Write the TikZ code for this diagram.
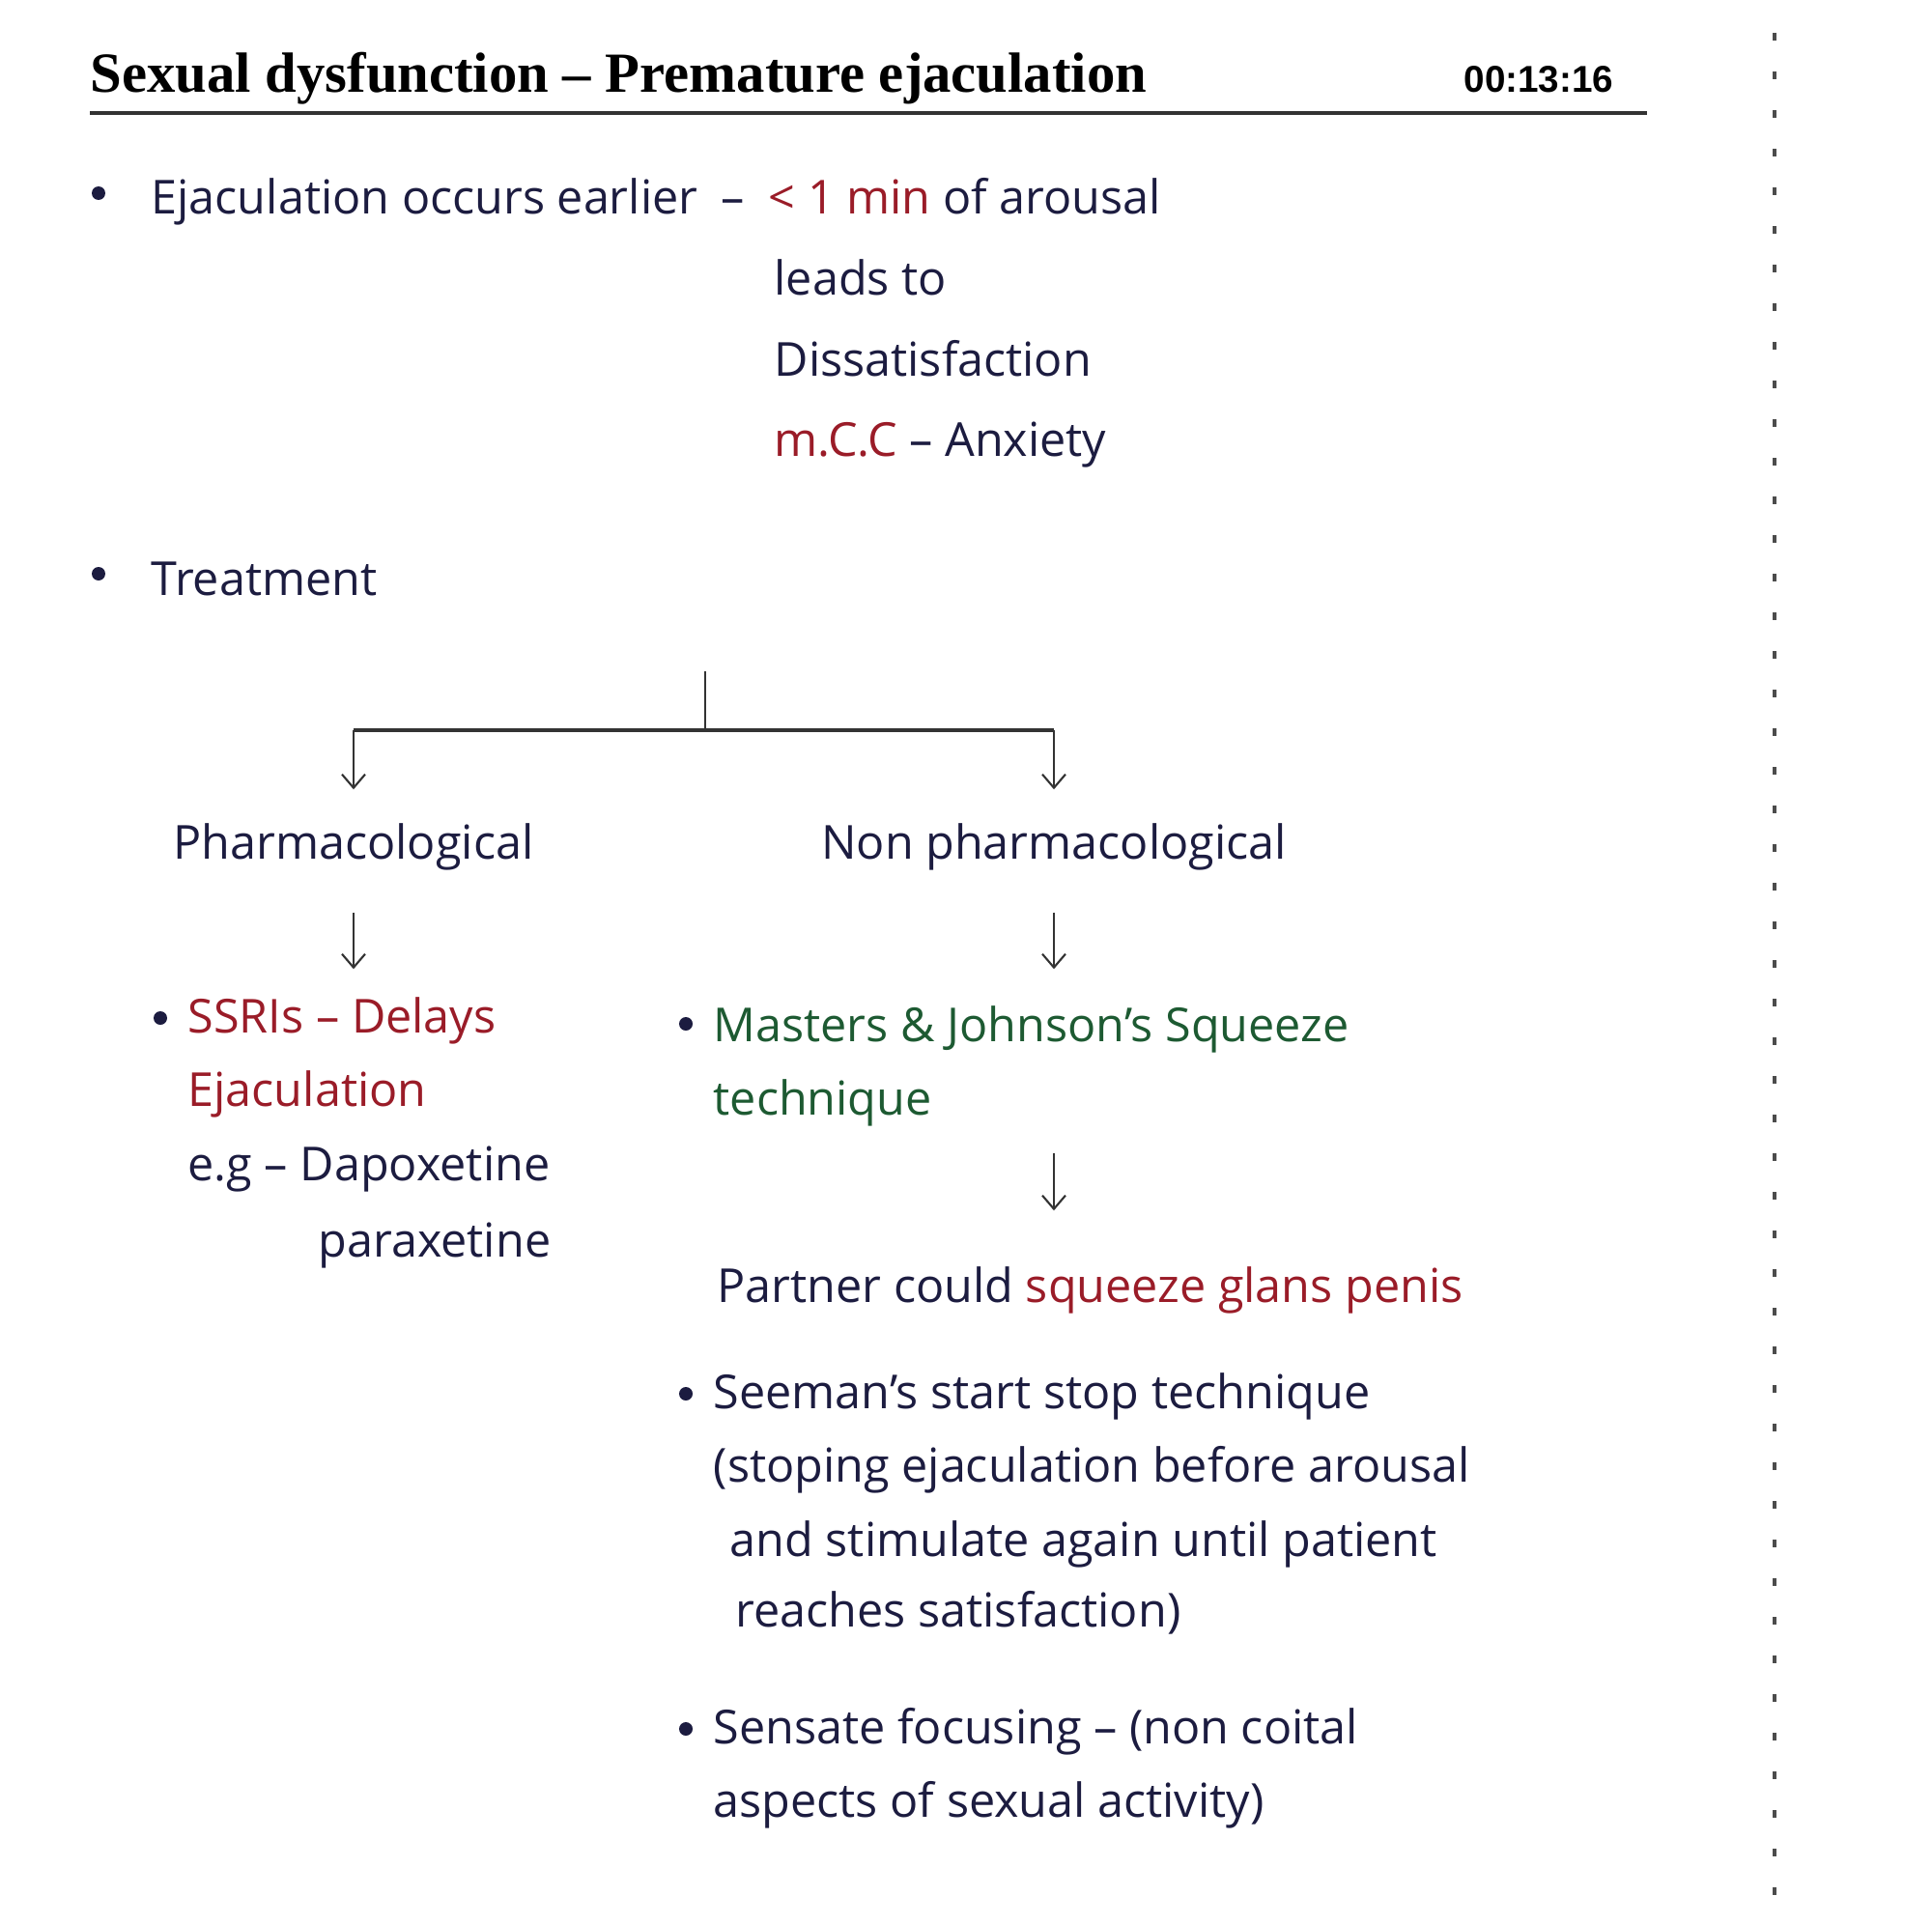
\documentclass[tikz,border=0pt]{standalone}
\usepackage{fontspec}
\setmainfont{Open Sans}
\newfontfamily\titlefont{Liberation Serif}
\newfontfamily\clockfont{Liberation Sans}
\usetikzlibrary{arrows.meta,positioning}
\definecolor{ink}{HTML}{1C1C40}
\definecolor{redink}{HTML}{9A1C28}
\definecolor{greenink}{HTML}{1D5A32}
\definecolor{rulegray}{HTML}{333333}

\begin{document}
\begin{tikzpicture}[
    font=\fontsize{13.8}{16}\selectfont,
    >={Straight Barb[length=1.4mm, width=2.4mm]},
    txt/.style={anchor=base west, inner sep=0pt, text=ink,
                text height=0.32cm, text depth=0.1cm},
    lbl/.style={txt, anchor=base},
    dot/.style={circle, fill=ink, inner sep=0pt, minimum size=0.14cm},
    link/.style={rulegray, line width=0.6pt},
    flow/.style={link, ->},
]
\useasboundingbox (0,0) rectangle (20,-19.92);

% =====================================================================
% header
% =====================================================================
\node[anchor=base west, inner sep=0pt, font=\titlefont\bfseries\fontsize{16.7}{19}\selectfont]
    (title) at (0.93,-0.96) {Sexual dysfunction – Premature ejaculation};
\node[anchor=base east, inner sep=0pt, font=\clockfont\bfseries\fontsize{11}{13}\selectfont]
    (clock) at (16.71,-0.96) {00:13:16};
\coordinate (ruleL) at (0.93,-1.17);
\coordinate (ruleR) at (17.05,-1.17);
\draw[rulegray, line width=0.9pt] (ruleL) -- (ruleR);

% dotted margin on the right
\coordinate (mtop) at (18.37,-0.34);
\coordinate (mbot) at (18.37,-19.65);
\draw[gray!60!black, line width=0.045cm, dash pattern=on 0.08cm off 0.32cm] (mtop) -- (mbot);

% =====================================================================
% definition
% =====================================================================
\node[dot] (b1) at (1.02,-2.00) {};
\node[txt] (def) at (1.56,-2.22)
    {Ejaculation occurs earlier\hspace{0.12cm} --\hspace{0.12cm} \textcolor{redink}{< 1 min} of arousal};
\node[txt] (leads) at (8.01,-3.06) {leads to};
\node[txt] (dissat) at (8.01,-3.89) {Dissatisfaction};
\node[txt] (mcc) at (8.01,-4.72) {\textcolor{redink}{m.C.C} -- Anxiety};

\node[dot] (b2) at (1.02,-5.94) {};
\node[txt] (treat) at (1.56,-6.16) {Treatment};

% =====================================================================
% treatment tree
% =====================================================================
\coordinate (root) at (7.30,-6.95);
\coordinate (fork) at (7.30,-7.56);
\coordinate (lfork) at (3.66,-7.56);
\coordinate (rfork) at (10.91,-7.56);

\node[lbl] (pharm) at (3.66,-8.89) {Pharmacological};
\node[lbl] (nonph) at (10.91,-8.89) {Non pharmacological};

\draw[link] (root) -- (fork);
\draw[link, line width=0.9pt] (lfork) -- (rfork);
\draw[flow, shorten >=0.39cm] (lfork) -- (pharm.north);
\draw[flow, shorten >=0.39cm] (rfork) -- (nonph.north);

% pharmacological branch
\node[dot] (b3) at (1.66,-10.54) {};
\node[txt, text=redink] (ssri) at (1.94,-10.69) {SSRIs -- Delays};
\node[txt, text=redink] (ssri2) at (1.94,-11.45) {Ejaculation};
\node[txt] (eg) at (1.94,-12.22) {e.g -- Dapoxetine};
\node[txt] (parox) at (3.29,-13.01) {paraxetine};

\draw[flow, shorten <=0.45cm, shorten >=0.33cm] (pharm.south) -- (pharm.south |- ssri.north);

% non pharmacological branch
\node[dot] (b4) at (7.10,-10.60) {};
\node[txt, text=greenink] (mj) at (7.38,-10.78) {Masters \& Johnson's Squeeze};
\node[txt, text=greenink] (mj2) at (7.38,-11.54) {technique};

\draw[flow, shorten <=0.45cm, shorten >=0.42cm] (nonph.south) -- (nonph.south |- mj.north);

\node[txt] (partner) at (7.42,-13.48)
    {Partner could \textcolor{redink}{squeeze glans penis}};
\draw[flow, shorten <=0.29cm, shorten >=0.62cm] (nonph.south |- mj2.south) -- (nonph.south |- partner.north);

\node[dot] (b5) at (7.10,-14.43) {};
\node[txt] (seeman) at (7.38,-14.58) {Seeman's start stop technique};
\node[txt] (seeman2) at (7.38,-15.34) {(stoping ejaculation before arousal};
\node[txt] (seeman3) at (7.55,-16.11) {and stimulate again until patient};
\node[txt] (seeman4) at (7.61,-16.84) {reaches satisfaction)};

\node[dot] (b6) at (7.10,-17.90) {};
\node[txt] (sensate) at (7.38,-18.05) {Sensate focusing -- (non coital};
\node[txt] (sensate2) at (7.38,-18.81) {aspects of sexual activity)};

\end{tikzpicture}
\end{document}
